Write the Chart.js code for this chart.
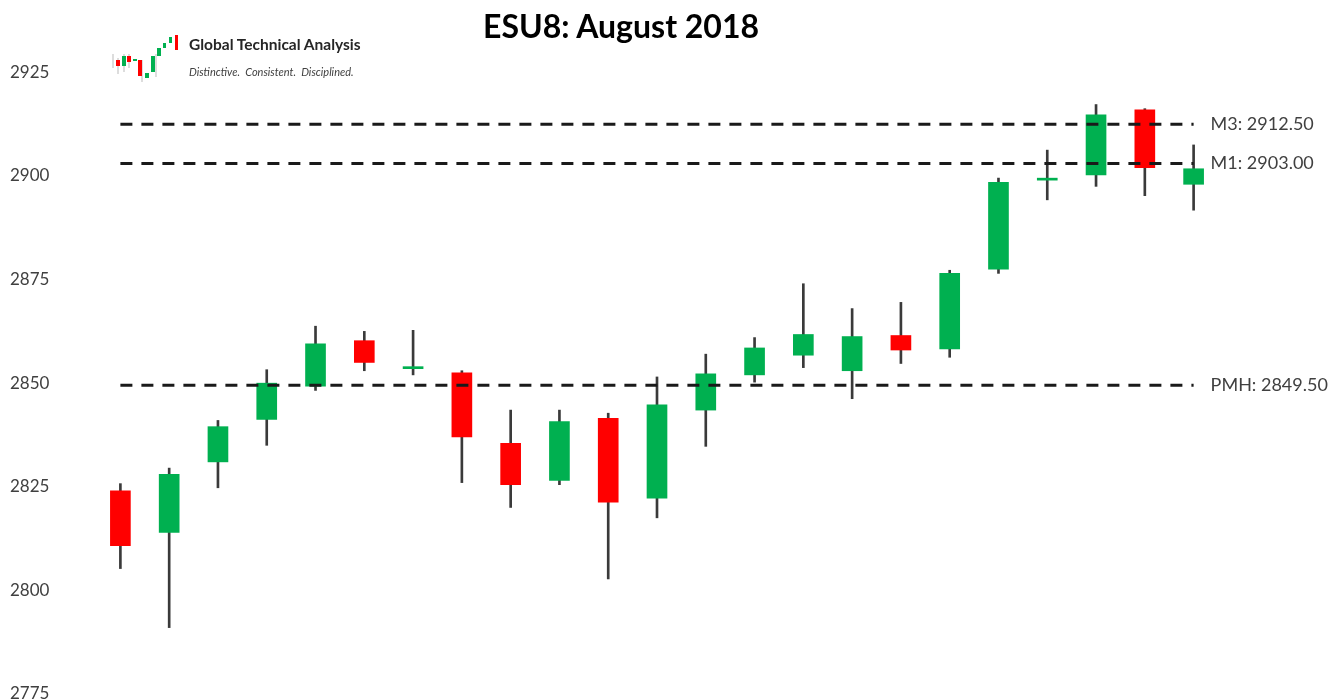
<!DOCTYPE html>
<html>
<head>
<meta charset="utf-8">
<title>ESU8: August 2018</title>
<script src="https://cdn.jsdelivr.net/npm/chart.js@4.4.1/dist/chart.umd.min.js"></script>
<style>
    body { margin: 0; background: #ffffff; font-family: Lato, "Open Sans", sans-serif; }
    #wrap { position: relative; width: 1336px; height: 699px; }
    #title { position: absolute; left: 483px; top: 6px; font-size: 32px; font-weight: bold; color: #000; white-space: nowrap; }
    #logo { position: absolute; left: 108px; top: 32px; }
    #brand { position: absolute; left: 189px; top: 35px; font-size: 15.5px; font-weight: bold; color: #262626; white-space: nowrap; }
    #tagline { position: absolute; left: 189px; top: 65px; font-size: 11px; font-style: italic; color: #404040; white-space: nowrap; }
</style>
</head>
<body>
<div id="wrap">
    <canvas id="chart"></canvas>
    <div id="title">ESU8: August 2018</div>
    <svg id="logo" width="72" height="50" viewBox="0 0 72 50">
        <g stroke="#bbb" stroke-width="1">
            <line x1="5" y1="22" x2="5" y2="36"/><line x1="10" y1="26" x2="10" y2="42"/>
            <line x1="16" y1="22" x2="16" y2="40"/><line x1="21" y1="22" x2="21" y2="36"/>
            <line x1="34" y1="28" x2="34" y2="50"/><line x1="48" y1="22" x2="48" y2="45"/>
        </g>
        <rect x="8" y="28" width="4" height="6" fill="#ff0000"/>
        <rect x="14" y="24" width="4" height="10" fill="#00b050"/>
        <rect x="19" y="24" width="4" height="6" fill="#ff0000"/>
        <rect x="25" y="27" width="4" height="2" fill="#00b050"/>
        <rect x="30" y="28" width="4" height="16" fill="#ff0000"/>
        <rect x="37" y="41" width="4" height="5" fill="#00b050"/>
        <rect x="43" y="24" width="4" height="16" fill="#00b050"/>
        <rect x="49" y="16" width="4" height="8" fill="#00b050"/>
        <rect x="55" y="11" width="3" height="5" fill="#00b050"/>
        <rect x="61" y="5" width="3" height="6" fill="#00b050"/>
        <rect x="67" y="3" width="3" height="15" fill="#ff0000"/>
    </svg>
    <div id="brand">Global Technical Analysis</div>
    <div id="tagline">Distinctive.&nbsp; Consistent.&nbsp; Disciplined.</div>
</div>
<script>
// trading days, August 2018
var days = ['1 Aug', '2 Aug', '3 Aug', '6 Aug', '7 Aug', '8 Aug', '9 Aug', '10 Aug',
    '13 Aug', '14 Aug', '15 Aug', '16 Aug', '17 Aug', '20 Aug', '21 Aug', '22 Aug',
    '23 Aug', '24 Aug', '27 Aug', '28 Aug', '29 Aug', '30 Aug', '31 Aug'];

var opens  = [2824, 2814, 2831, 2841.25, 2849.25, 2860.25, 2853.5, 2852.5, 2835.5, 2826.5, 2841.5, 2822.25,
    2843.5, 2852, 2856.75, 2853, 2861.5, 2858.25, 2877.5, 2899, 2900.25, 2916, 2898];
var highs  = [2825.75, 2829.5, 2841, 2853.25, 2863.75, 2862.5, 2862.75, 2853, 2843.5, 2843.5, 2842.75, 2851.5,
    2857, 2861, 2874, 2868, 2869.5, 2877.25, 2899.5, 2906.25, 2917.25, 2916.25, 2907.5];
var lows   = [2805.25, 2791, 2824.75, 2835, 2848.25, 2853, 2852, 2826, 2820, 2825.5, 2802.75, 2817.5,
    2834.75, 2850.25, 2853.75, 2846.25, 2854.75, 2856.25, 2876.5, 2894.25, 2897.5, 2895.25, 2891.75];
var closes = [2810.75, 2828, 2839.5, 2850, 2859.5, 2855, 2853.75, 2837, 2825.5, 2840.75, 2821.25, 2844.75,
    2852.25, 2858.5, 2861.75, 2861.25, 2858, 2876.5, 2898.5, 2899.25, 2914.75, 2902, 2901.75];

// reference levels
var levelNames  = ['PMH', 'M1', 'M3'];
var levelValues = [2849.50, 2903.00, 2912.50];

var yTicks = [2775, 2800, 2825, 2850, 2875, 2900, 2925];

var UP = '#00b050';
var DOWN = '#ff0000';

var bodies = [];
var wicks = [];
var bodyColors = [];
for (var i = 0; i < days.length; i++) {
    bodies.push([opens[i], closes[i]]);
    wicks.push([lows[i], highs[i]]);
    bodyColors.push(closes[i] >= opens[i] ? UP : DOWN);
}

var datasets = [];
levelValues.forEach(function (v, k) {
    datasets.push({
        type: 'line',
        label: levelNames[k],
        data: [{ x: days[0], y: v }, { x: days[days.length - 1], y: v }],
        borderColor: '#1a1a1a',
        borderWidth: 3,
        borderDash: [12, 9],
        pointRadius: 0,
        order: 0
    });
});
datasets.push({
    type: 'bar',
    label: 'Body',
    data: bodies,
    backgroundColor: bodyColors,
    barThickness: 20,
    minBarLength: 2,
    grouped: false,
    order: 1
});
datasets.push({
    type: 'bar',
    label: 'Wick',
    data: wicks,
    backgroundColor: '#3a3a3a',
    barThickness: 2,
    grouped: false,
    order: 2
});

var levelLabels = {
    id: 'levelLabels',
    afterDatasetsDraw: function (chart) {
        var ctx = chart.ctx;
        var xs = chart.scales.x;
        var ys = chart.scales.y;
        var x = xs.getPixelForValue(days.length - 1) + 17;
        ctx.save();
        ctx.font = '18px Lato, "Open Sans", sans-serif';
        ctx.fillStyle = '#404040';
        ctx.textAlign = 'left';
        ctx.textBaseline = 'middle';
        levelValues.forEach(function (v, k) {
            ctx.fillText(levelNames[k] + ': ' + v.toFixed(2), x, ys.getPixelForValue(v));
        });
        ctx.restore();
    }
};

var ctx = document.getElementById('chart').getContext('2d');
var myChart = new Chart(ctx, {
    type: 'bar',
    data: { labels: days, datasets: datasets },
    plugins: [levelLabels],
    options: {
        responsive: true,
        maintainAspectRatio: false,
        animation: false,
        layout: { padding: { left: 10, right: 118, top: 31, bottom: 3 } },
        plugins: {
            legend: { display: false },
            tooltip: { enabled: false },
            title: { display: false }
        },
        scales: {
            x: {
                display: false,
                offset: true
            },
            y: {
                min: 2775,
                max: 2935,
                grid: { display: false },
                border: { display: false },
                afterFit: function (scale) { scale.width = 86; },
                afterBuildTicks: function (scale) {
                    scale.ticks = yTicks.map(function (v) { return { value: v }; });
                },
                ticks: {
                    crossAlign: 'far',
                    color: '#404040',
                    padding: 0,
                    font: { family: 'Lato, "Open Sans", sans-serif', size: 17, lineHeight: 0.6 },
                    callback: function (value) { return String(value); }
                }
            }
        }
    }
});
</script>
</body>
</html>
